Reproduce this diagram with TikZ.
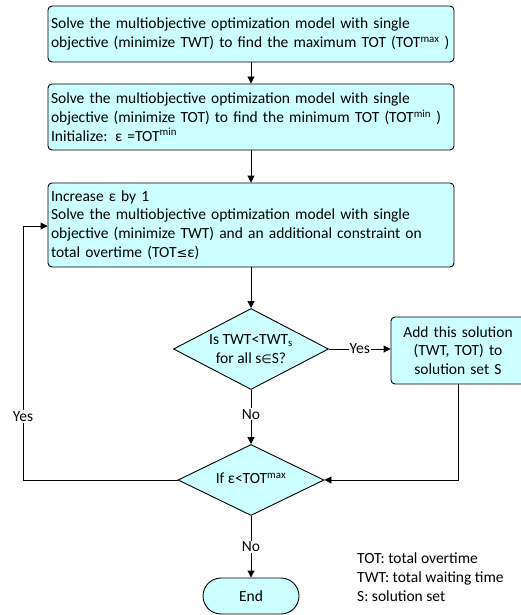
\documentclass[tikz,border=0pt]{standalone}
\usepackage{fontspec}
\setmainfont{Carlito}
\newfontfamily\dejavu{DejaVu Sans}
\usetikzlibrary{shapes.geometric,arrows.meta}
\definecolor{boxfill}{HTML}{CCFFFF}
\begin{document}
\begin{tikzpicture}[x=1pt,y=-1pt,
  font=\fontsize{15.5}{18.7}\selectfont,
  procbox/.style={draw, line width=0.9pt, fill=boxfill, rounded corners=4pt, inner sep=3pt, align=left},
  decbox/.style={draw, line width=0.9pt, fill=boxfill, diamond, inner sep=0pt, align=center},
  conn/.style={line width=0.9pt, -{Triangle[length=7pt,width=7pt]}},
  lbl/.style={fill=white, inner sep=1pt}]
\useasboundingbox (0,0) rectangle (521,615);
\begin{scope}
\clip (0,0) rectangle (521,615);
\node[procbox, minimum width=406pt, minimum height=56pt, text width=400pt] (b1) at (251,34)
  {Solve the multiobjective optimization model with single\\objective (minimize TWT) to find the maximum TOT (TOT\textsuperscript{max} )};
\node[procbox, minimum width=406pt, minimum height=66pt, text width=400pt] (b2) at (251,117)
  {Solve the multiobjective optimization model with single\\objective (minimize TOT) to find the minimum TOT (TOT\textsuperscript{min} )\\Initialize: ε =TOT\textsuperscript{min}};
\node[procbox, minimum width=406pt, minimum height=84pt, text width=400pt] (b3) at (251,225)
  {Increase ε by 1\\Solve the multiobjective optimization model with single\\objective (minimize TWT) and an additional constraint on\\total overtime (TOT{\dejavu\fontsize{13}{14}\selectfont ≤}ε)};
\node[decbox, minimum width=155pt, minimum height=81pt] (d1) at (251,349) {};
\node[align=center] (t1) at (251,349) {Is TWT<TWT\textsubscript{s}\\for all s{\dejavu\fontsize{12}{14}\selectfont ∈}S?};
\node[procbox, align=center, minimum width=134pt, minimum height=67pt, text width=128pt] (b4) at (458,350.5)
  {Add this solution\\(TWT, TOT) to\\solution set S};
\node[decbox, minimum width=146pt, minimum height=71pt] (d2) at (251,480) {};
\node (t2) at (251,478) {If ε<TOT\textsuperscript{max}};
\node[draw, line width=0.9pt, fill=boxfill, rounded corners=18pt, minimum width=96pt, minimum height=36pt] (e) at (251,596) {End};
\coordinate (lb) at (23,480);
\coordinate (lt) at (23,226);
\coordinate (rb) at (458,480);

\draw[conn] (b1) -- (b2);
\draw[conn] (b2) -- (b3);
\draw[conn] (b3) -- (d1);
\draw[conn] (d1.east) -- node[lbl] {Yes} (b4.west |- d1.east);
\draw[conn] (d1.south) -- node[lbl, pos=0.45] {No} (d2.north);
\draw[conn] (b4.south) -- (rb) -- (d2.east);
\draw[conn] (d2.west) -- (lb) -- node[lbl, pos=0.25] {Yes} (lt) -- (lt -| b3.west);
\draw[conn] (d2.south) -- node[lbl, pos=0.5] {No} (e.north);

\node[align=left, anchor=north west, inner sep=0pt] (leg) at (357,553)
  {TOT: total overtime\\TWT: total waiting time\\S: solution set};
\end{scope}
\end{tikzpicture}
\end{document}
